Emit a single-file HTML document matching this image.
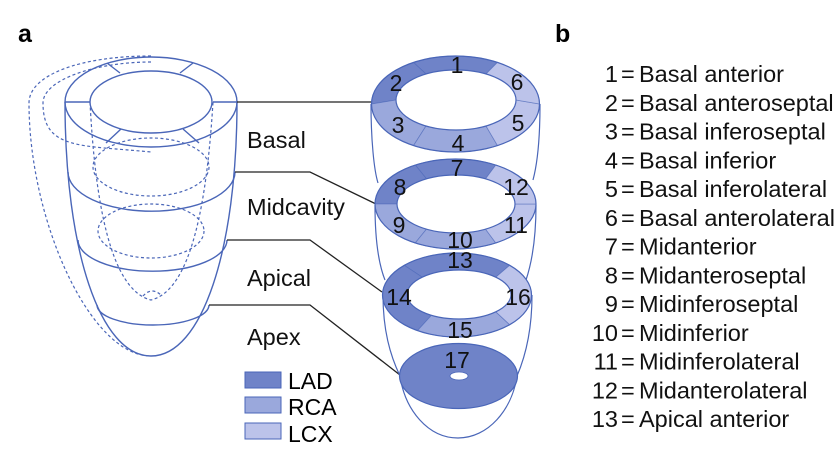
<!DOCTYPE html>
<html><head><meta charset="utf-8"><style>
html,body{margin:0;padding:0;background:#fff;}
svg{display:block;font-family:"Liberation Sans",Arial,sans-serif;}
</style></head><body>
<svg id="s" width="838" height="455" viewBox="0 0 838 455">
<text x="18" y="42" font-size="25" font-weight="bold">a</text>
<text x="555" y="42" font-size="25" font-weight="bold">b</text>

<g id="heart" fill="none" stroke="#4a66b8" stroke-width="1.4">
  <g stroke-dasharray="3,2.5" stroke-width="1.2">
    <path d="M151,56 C80,56 29,75 29,103 C29,220 90,356 151,356"/>
    <path d="M151,62 C95,62 43,80 43,103 C43,150 80,145 151,152"/>
    <path d="M90,102 C95,200 110,290 151,300 C192,290 207,200 213,102"/>
    <ellipse cx="151" cy="167" rx="58" ry="29"/>
    <ellipse cx="151" cy="231" rx="53" ry="27"/>
    <path d="M143,296 Q152,286 162,296"/>
  </g>
  <path d="M65,102 C65,250 100,356 151,356 C202,356 237,250 237,102" fill="none"/>
  <ellipse cx="151" cy="102" rx="86" ry="45" fill="none"/>
  <ellipse cx="151" cy="102" rx="61" ry="31" fill="#fff"/>
  <path d="M65,102H90 M213,102H237 M107,63L120,73 M193,63L180,73 M106,143L121,129 M199,143L183,129"/>
  <path d="M68,172 A83,39 0 0 0 235,172"/>
  <path d="M78,240 A74,31 0 0 0 227,240"/>
  <path d="M97,305 A56,20 0 0 0 209,305"/>
</g>

<g fill="none" stroke="#222" stroke-width="1.3">
  <path d="M237,102H372"/>
  <path d="M235,172H310L376,204"/>
  <path d="M227,240H310L382,292"/>
  <path d="M209,305H310L400,375"/>
</g>

<g font-size="23.5" fill="#111">
  <text x="247" y="148">Basal</text>
  <text x="247" y="215">Midcavity</text>
  <text x="247" y="286">Apical</text>
  <text x="247" y="345">Apex</text>
</g>

<g>
  <rect x="245" y="372" width="36" height="16" fill="#6f83c8" stroke="#4a66b8"/>
  <rect x="245" y="397" width="36" height="16" fill="#9aa8dc" stroke="#4a66b8"/>
  <rect x="245" y="423" width="36" height="16" fill="#bcc3ea" stroke="#4a66b8"/>
  <text x="288" y="389" font-size="23">LAD</text>
  <text x="288" y="415" font-size="23">RCA</text>
  <text x="288" y="442" font-size="23">LCX</text>
</g>

<g id="rings"></g>

<g font-size="23.5" fill="#111" id="list"></g>
</svg>
<script>
const NS="http://www.w3.org/2000/svg";
const COL={LAD:"#6f83c8",RCA:"#9aa8dc",LCX:"#bcc3ea"};
const STROKE="#4a66b8";
const segNames=["Basal anterior","Basal anteroseptal","Basal inferoseptal","Basal inferior","Basal inferolateral","Basal anterolateral","Midanterior","Midanteroseptal","Midinferoseptal","Midinferior","Midinferolateral","Midanterolateral","Apical anterior"];
const rings=document.getElementById('rings');
function mk(tag,attrs,parent){const e=document.createElementNS(NS,tag);for(const k in attrs)e.setAttribute(k,attrs[k]);parent.appendChild(e);return e;}
const walls=[
 "M371,104 C371,140 374,170 378,183",
 "M540,104 C540,140 537,165 533,180",
 "M375,205 C375,240 379,265 385,280",
 "M536,205 C536,240 532,262 526,280",
 "M383,295 C383,330 390,355 400,376",
 "M532,295 C532,330 526,355 517,376",
 "M400,376 C405,410 428,438 458,438 C488,438 512,410 517,376"];
walls.forEach(d=>{const p=mk('path',{d:d,fill:'none',stroke:STROKE,'stroke-width':1.2},rings);

});
function pt(cx,cy,rx,ry,a){const r=a*Math.PI/180;return [cx+rx*Math.cos(r),cy-ry*Math.sin(r)];}
function ring(o,i,segs){
  segs.forEach(s=>{
    let d="";const n=40;
    for(let k=0;k<=n;k++){const a=s.a0+(s.a1-s.a0)*k/n;const p=pt(o.cx,o.cy,o.rx,o.ry,a);d+=(k?"L":"M")+p[0].toFixed(1)+","+p[1].toFixed(1);}
    for(let k=n;k>=0;k--){const a=s.a0+(s.a1-s.a0)*k/n;const p=pt(i.cx,i.cy,i.rx,i.ry,a);d+="L"+p[0].toFixed(1)+","+p[1].toFixed(1);}
    d+="Z";
    const e=mk('path',{d:d,fill:COL[s.c],stroke:STROKE,'stroke-width':0.8,'stroke-opacity':0.6},rings);
    
    
  });
  const oe=mk('ellipse',{cx:o.cx,cy:o.cy,rx:o.rx,ry:o.ry,fill:'none',stroke:STROKE,'stroke-width':1.2},rings);
  
  
  const ie=mk('ellipse',{cx:i.cx,cy:i.cy,rx:i.rx,ry:i.ry,fill:'#fff',stroke:STROKE,'stroke-width':1.2},rings);
  
  
}
ring({cx:455.5,cy:104,rx:84,ry:48},{cx:456,cy:100,rx:60,ry:30},[
 {id:1,a0:60,a1:120,c:'LAD'},{id:2,a0:120,a1:180,c:'LAD'},{id:3,a0:180,a1:240,c:'RCA'},
 {id:4,a0:240,a1:300,c:'RCA'},{id:5,a0:300,a1:360,c:'LCX'},{id:6,a0:0,a1:60,c:'LCX'}]);
ring({cx:455.5,cy:204,rx:80.5,ry:45},{cx:456,cy:204,rx:59,ry:29},[
 {id:7,a0:60,a1:120,c:'LAD'},{id:8,a0:120,a1:180,c:'LAD'},{id:9,a0:180,a1:240,c:'RCA'},
 {id:10,a0:240,a1:300,c:'RCA'},{id:11,a0:300,a1:360,c:'LCX'},{id:12,a0:0,a1:60,c:'LCX'}]);
ring({cx:457,cy:295,rx:74.5,ry:42},{cx:459,cy:294.5,rx:52,ry:24.5},[
 {id:13,a0:45,a1:135,c:'LAD'},{id:14,a0:135,a1:238,c:'LAD'},{id:15,a0:238,a1:315,c:'RCA'},{id:16,a0:315,a1:405,c:'LCX'}]);
const ap=mk('ellipse',{cx:458.5,cy:376,rx:59,ry:32.5,fill:COL.LAD,stroke:STROKE,'stroke-width':1.2},rings);


const hole=mk('ellipse',{cx:459,cy:376,rx:9,ry:4,fill:'#fff',stroke:STROKE,'stroke-width':0.8},rings);


const nums=[[1,457,65],[2,396,83],[6,517,82],[3,398,125],[5,518,123],[4,458,143],[7,457,168],[8,400,187],[12,516,187],[9,399,225],[11,516,225],[10,460,240],[13,460,260],[14,399,297],[16,518,297],[15,460,330],[17,457,360]];
nums.forEach(n=>{const t=mk('text',{x:n[1],y:n[2]+8,'text-anchor':'middle','font-size':23,fill:'#111'},rings);t.textContent=n[0];

});
const list=document.getElementById('list');
segNames.forEach((s,k)=>{const y=82+k*28.75;
 const a=mk('text',{x:618,y:y,'text-anchor':'end'},list);a.textContent=(k+1);
 
 
 const b=mk('text',{x:621,y:y},list);b.textContent="=";
 
 
 const c=mk('text',{x:639,y:y},list);c.textContent=s;
 
 
});
</script>
</body></html>
